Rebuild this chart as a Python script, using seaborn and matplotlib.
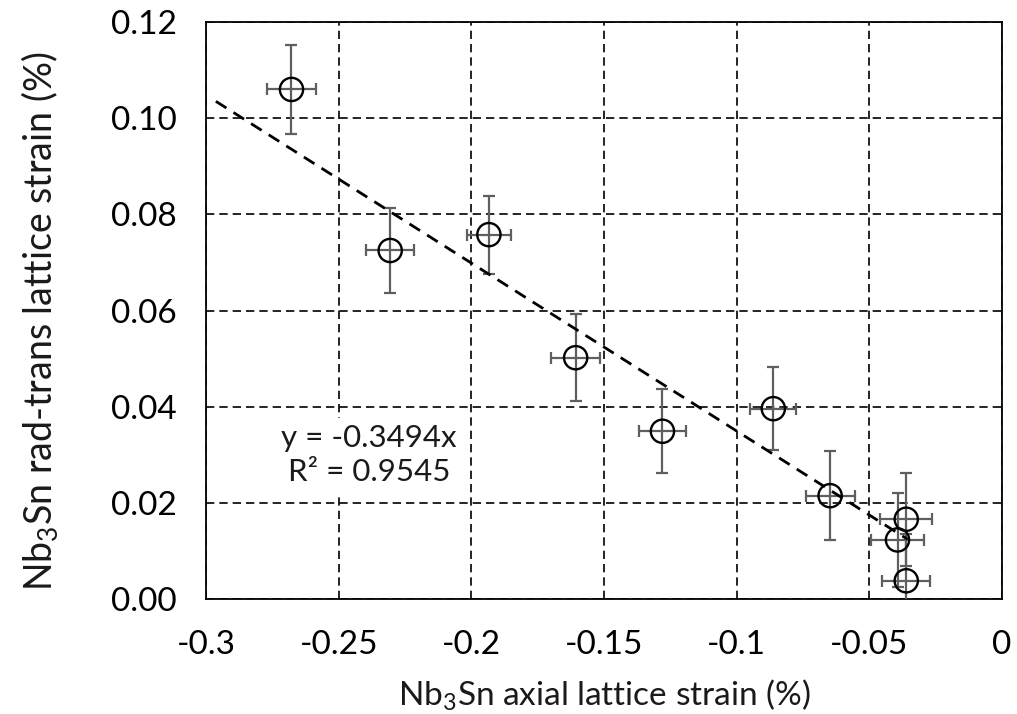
import numpy as np
import pandas as pd
import matplotlib
matplotlib.use('Agg')
import matplotlib.pyplot as plt
import seaborn as sb

sb.set_style('white')
plt.rcParams['font.family'] = ['Lato', 'DejaVu Sans']
plt.rcParams['mathtext.fontset'] = 'custom'
plt.rcParams['mathtext.rm'] = 'Lato'

# data
axial = [-0.2678, -0.2306, -0.1934, -0.1607, -0.1280, -0.0862, -0.0648, -0.0361, -0.0394, -0.0361]
radtrans = [0.1060, 0.0725, 0.0758, 0.0502, 0.0349, 0.0396, 0.0215, 0.0166, 0.0123, 0.0038]
axial_err = [0.0093, 0.0090, 0.0082, 0.0092, 0.0090, 0.0087, 0.0092, 0.0098, 0.0100, 0.0090]
radtrans_err = [0.0093, 0.0089, 0.0081, 0.0090, 0.0087, 0.0087, 0.0093, 0.0097, 0.0098, 0.0097]
slope = -0.3494
r2 = 0.9545
fit_range = [-0.2963, -0.0356]

xticks = [-0.3, -0.25, -0.2, -0.15, -0.1, -0.05, 0]
xticklabels = ['-0.3', '-0.25', '-0.2', '-0.15', '-0.1', '-0.05', '0']
yticks = [0.00, 0.02, 0.04, 0.06, 0.08, 0.10, 0.12]

df = pd.DataFrame({'axial': axial, 'radtrans': radtrans})
fit = pd.DataFrame({'x': fit_range})
fit['y'] = slope * fit['x']

fig = plt.figure(figsize=(10.17, 7.14), dpi=100)
ax = fig.add_axes([0.2026, 0.161, 0.7827, 0.808])

ax.errorbar(axial, radtrans, xerr=axial_err, yerr=radtrans_err, fmt='none',
            ecolor='#5f5f5f', elinewidth=1.6, capsize=4, capthick=1.6, zorder=3)
sb.scatterplot(data=df, x='axial', y='radtrans', marker='o', s=280,
               facecolors='none', edgecolor='black', linewidth=1.7, ax=ax, zorder=4)
ax.plot(fit['x'], fit['y'], color='black', lw=2.0, dashes=(4.5, 3), zorder=5)

ax.text(-0.2385, 0.0299, 'y = %.4fx\nR² = %.4f' % (slope, r2), ha='center', va='center',
        fontsize=22.5, linespacing=1.25, zorder=2, color='#1a1a1a',
        bbox=dict(boxstyle='square,pad=0.22', fc='white', ec='none'))

ax.set_xlim(-0.3, 0)
ax.set_ylim(0, 0.12)
ax.set_xticks(xticks)
ax.set_xticklabels(xticklabels)
ax.set_yticks(yticks)
ax.set_yticklabels(['%.2f' % t for t in yticks])
ax.tick_params(axis='both', length=0, labelsize=24, colors='black')
ax.tick_params(axis='x', pad=22)
ax.tick_params(axis='y', pad=21)

ax.grid(True, color='black', lw=1.2, linestyle=(0, (5, 3)), zorder=0)
ax.set_axisbelow(True)
for s in ax.spines.values():
    s.set_color('black')
    s.set_linewidth(1.3)

ax.set_xlabel('Nb$_3$Sn axial lattice strain (%)', fontsize=24, color='#1a1a1a', va='center')
ax.set_ylabel('Nb$_3$Sn rad-trans lattice strain (%)', fontsize=27, color='#1a1a1a', va='center')
ax.xaxis.set_label_coords(0.5, -0.166)
ax.yaxis.set_label_coords(-0.2085, 0.482)

plt.savefig('out.png', dpi=100)
